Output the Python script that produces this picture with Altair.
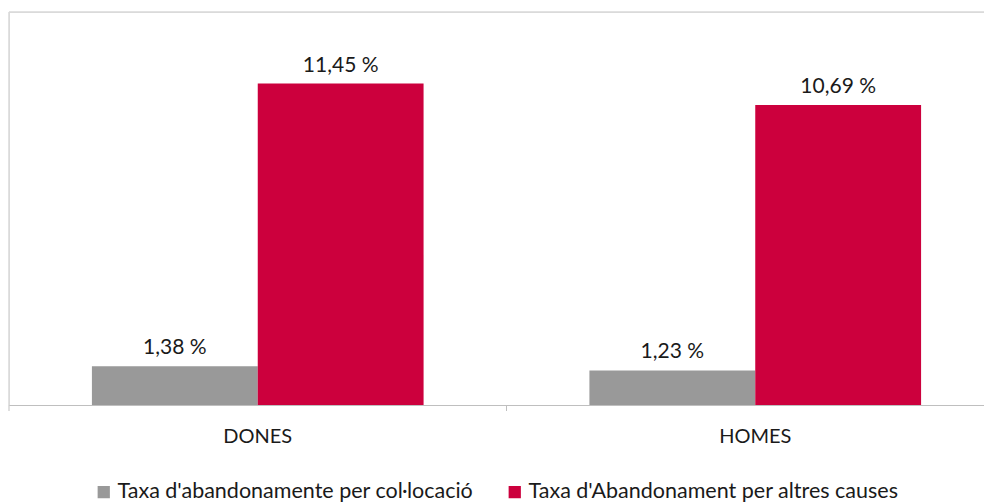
import altair as alt
import pandas as pd

categories = ["DONES", "HOMES"]
series = ["Taxa d'abandonamente per col·locació", "Taxa d'Abandonament per altres causes"]
values_collocacio = [1.38, 1.23]
values_altres = [11.45, 10.69]
colors = ["#999999", "#cc003d"]

rows = []
for i, cat in enumerate(categories):
    for s, vals in zip(series, [values_collocacio, values_altres]):
        v = vals[i]
        rows.append({"cat": cat, "serie": s, "val": v,
                     "label": f"{v:.2f}".replace(".", ",") + " %"})
df = pd.DataFrame(rows)

FONT = "Lato"
TXT = "#1a1a1a"

x = alt.X("cat:N", sort=categories, title=None,
          scale=alt.Scale(paddingInner=0, paddingOuter=0, range=[0, 995]),
          axis=alt.Axis(labelAngle=0, ticks=False, domainColor="#bfbfbf",
                        labelFont=FONT, labelFontSize=20, labelColor=TXT,
                        labelPadding=21, grid=False))
xo = alt.XOffset("serie:N", sort=series,
                 scale=alt.Scale(paddingInner=0, paddingOuter=0.5))
y = alt.Y("val:Q", scale=alt.Scale(domain=[0, 14]), axis=None)

bars = alt.Chart(df).mark_bar().encode(
    x=x, xOffset=xo, y=y,
    color=alt.Color("serie:N", sort=series,
                    scale=alt.Scale(domain=series, range=colors),
                    legend=alt.Legend(title=None, orient="none", direction="horizontal",
                                      legendX=84, legendY=469,
                                      symbolType="square", symbolSize=150,
                                      symbolStrokeWidth=0, labelOffset=3,
                                      labelFont=FONT, labelFontSize=21.5,
                                      labelColor=TXT, columnPadding=30,
                                      labelLimit=600)),
)

labels = alt.Chart(df).mark_text(baseline="alphabetic", dy=-12, font=FONT,
                                 fontSize=21, color=TXT).encode(
    x=x, xOffset=xo, y=y, text="label:N"
)

ticks = alt.Chart(pd.DataFrame({"cat": categories})).mark_rule(
    color="#bfbfbf", strokeWidth=1).encode(
    x=alt.X("cat:N", sort=categories, bandPosition=0),
    y=alt.value(393), y2=alt.value(399)
)

frame_top = alt.Chart(pd.DataFrame({"a": [0]})).mark_rule(
    color="#d9d9d9", strokeWidth=1.5).encode(
    x=alt.value(0), x2=alt.value(975), y=alt.value(0)
)
frame_left = alt.Chart(pd.DataFrame({"a": [0]})).mark_rule(
    color="#d9d9d9", strokeWidth=1.5).encode(
    x=alt.value(0), y=alt.value(0), y2=alt.value(393)
)

chart = alt.layer(frame_top, frame_left, bars, labels, ticks).properties(
    width=975, height=393,
    padding={"left": 1, "top": 4, "right": 0, "bottom": 103},
    autosize=alt.AutoSizeParams(type="none"),
).configure_view(stroke=None).configure(background="white")

chart.save("out.html", embed_options={"renderer": "svg", "actions": False})
